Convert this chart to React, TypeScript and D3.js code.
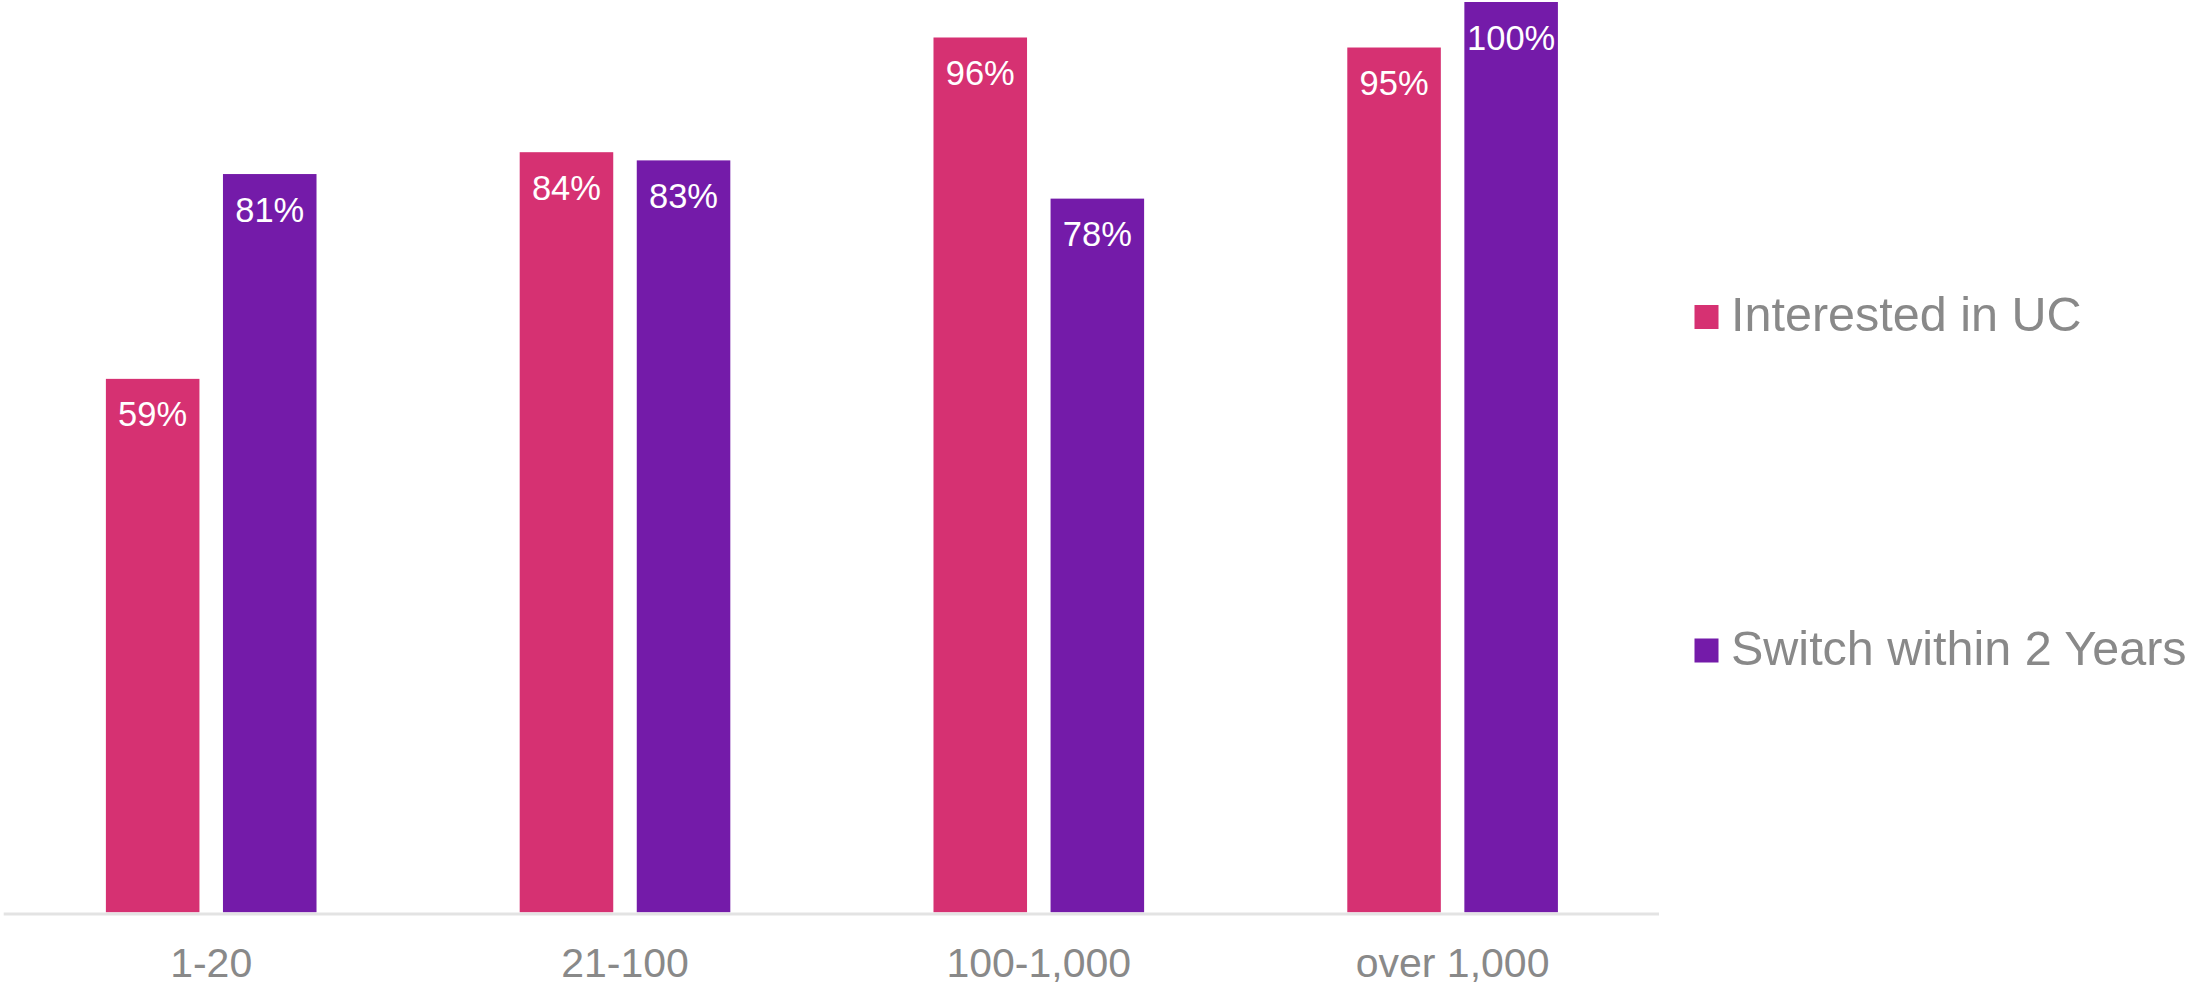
import React from "react";
import * as d3 from "d3";

const categories = ["1-20", "21-100", "100-1,000", "over 1,000"];
const seriesNames = ["Interested in UC", "Switch within 2 Years"];
const interestedInUC = [58.6, 83.5, 96.1, 95.0];
const switchWithin2Years = [81.1, 82.6, 78.4, 100];
const seriesColors = ["#D63172", "#741BA9"];

const W = 2195;
const H = 988;

export default function App() {
  const values = [interestedInUC, switchWithin2Years];
  const x0 = d3
    .scaleBand<string>()
    .domain(categories)
    .range([4.3, 1659.5])
    .paddingInner(0.491)
    .paddingOuter(0.2455);
  const x1 = d3
    .scaleBand<string>()
    .domain(seriesNames)
    .range([0, x0.bandwidth()])
    .paddingInner(0.2009)
    .paddingOuter(0);
  const y = d3.scaleLinear().domain([0, 100]).range([912.3, 2]);
  const font = "'Liberation Sans', Arial, Helvetica, sans-serif";
  const grey = "#898989";

  return (
    <svg
      width={W}
      height={H}
      style={{ position: "absolute", left: 0, top: 0, background: "#fff" }}
      fontFamily={font}
    >
      <rect x={0} y={0} width={W} height={H} fill="#fff" />
      {categories.map((c, ci) => (
        <g key={c} transform={`translate(${x0(c)},0)`}>
          {seriesNames.map((s, si) => {
            const v = values[si][ci];
            const bx = x1(s)!;
            const top = y(v);
            return (
              <g key={s}>
                <rect
                  x={bx}
                  y={top}
                  width={x1.bandwidth()}
                  height={y(0) - top}
                  fill={seriesColors[si]}
                />
                <text
                  x={bx + x1.bandwidth() / 2}
                  y={top + 47.5}
                  textAnchor="middle"
                  fill="#fff"
                  fontSize={34.5}
                >
                  {`${Math.round(v)}%`}
                </text>
              </g>
            );
          })}
          <text
            x={x0.bandwidth() / 2}
            y={977}
            textAnchor="middle"
            fill={grey}
            fontSize={41}
          >
            {c}
          </text>
        </g>
      ))}
      <line x1={3.7} x2={1659} y1={914} y2={914} stroke="#e3e3e3" strokeWidth={3} />
      {seriesNames.map((s, si) => {
        const baseY = si === 0 ? 331 : 664.5;
        return (
          <g key={s}>
            <rect x={1694.5} y={baseY - 26} width={24} height={24} fill={seriesColors[si]} />
            <text x={1731} y={baseY} fill={grey} fontSize={48.5}>
              {s}
            </text>
          </g>
        );
      })}
    </svg>
  );
}
